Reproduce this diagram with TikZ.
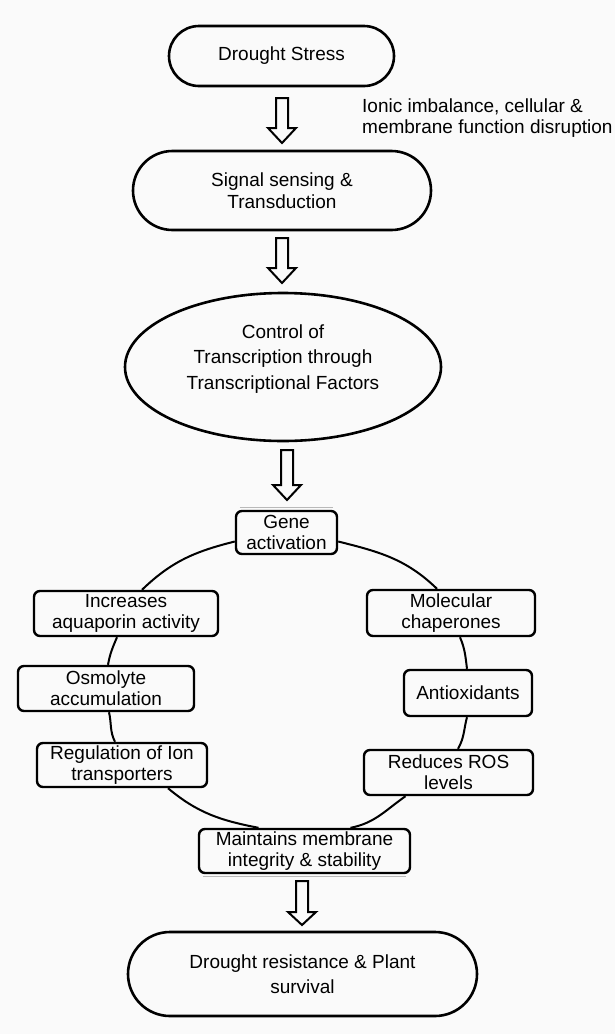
\documentclass[tikz,border=0pt]{standalone}
\usepackage{fontspec}
\setmainfont{Liberation Sans}
\usetikzlibrary{shapes.misc,shapes.geometric}
\definecolor{bg}{RGB}{250,250,250}
\newcommand\hollowarrow[4]{%
  \draw[harrow] ({#1-6},{-#2}) -- ({#1+6},{-#2}) -- ({#1+6},{-#3}) -- ({#1+14},{-#3})
    -- (#1,{-#4}) -- ({#1-14},{-#3}) -- ({#1-6},{-#3}) -- cycle;}
\begin{document}
\begin{tikzpicture}[x=1pt,y=1pt,
  txt/.style={font=\fontsize{19}{21}\selectfont, align=center, inner sep=0pt},
  stadium/.style={txt, rounded rectangle, draw, line width=2.6pt, fill=bg},
  oval/.style={txt, ellipse, draw, line width=2.6pt, fill=bg},
  rbox/.style={txt, rectangle, rounded corners=6pt, draw, line width=2.4pt, fill=bg},
  harrow/.style={draw, line width=2pt, fill=bg, line join=miter},
  ring/.style={draw, line width=2pt},
  shade/.style={draw=gray!55, line width=1.2pt}]
\fill[bg] (0,0) rectangle (615,-1034);
\useasboundingbox (0,0) rectangle (615,-1034);

\node[stadium, minimum width=225pt, minimum height=60pt] (ds) at (281.5,-56) {Drought Stress};
\node[stadium, minimum width=298pt, minimum height=79pt, font=\fontsize{19}{21.5}\selectfont] (sig) at (282,-190.5) {Signal sensing \&\\Transduction};
\node[oval, minimum width=316pt, minimum height=148pt, font=\fontsize{19}{25.5}\selectfont, text depth=20pt] (ctrl) at (283,-367) {Control of\\Transcription through\\Transcriptional Factors};

\node[txt, anchor=north west, align=left, font=\fontsize{19}{21.5}\selectfont] (ionic) at (362,-98.5) {Ionic imbalance, cellular \&\\membrane function disruption};

\node[rbox, minimum width=101pt, minimum height=43pt] (gene) at (286.5,-532.5) {Gene\\activation};
\node[rbox, minimum width=184pt, minimum height=45pt] (inc) at (126,-613.5) {Increases\\aquaporin activity};
\node[rbox, minimum width=176pt, minimum height=45pt] (osm) at (106,-688.5) {Osmolyte\\accumulation};
\node[rbox, minimum width=170pt, minimum height=44pt] (reg) at (122,-765) {Regulation of Ion\\transporters};
\node[rbox, minimum width=168pt, minimum height=46pt] (mol) at (451,-613) {Molecular\\chaperones};
\node[rbox, minimum width=128pt, minimum height=46pt] (anti) at (468,-693) {Antioxidants};
\node[rbox, minimum width=169pt, minimum height=45pt] (red) at (448.5,-772.5) {Reduces ROS\\levels};
\node[rbox, minimum width=211pt, minimum height=44pt] (maint) at (304.5,-851) {Maintains membrane\\integrity \& stability};
\node[stadium, minimum width=349pt, minimum height=84pt, font=\fontsize{19}{25}\selectfont] (res) at (302.5,-974) {Drought resistance \& Plant\\survival};

% faint shadow edges
\draw[shade] ([xshift=5pt,yshift=2.6pt]gene.north west) -- ([xshift=-5pt,yshift=2.6pt]gene.north east);
\draw[shade] ([xshift=5pt,yshift=-2.6pt]maint.south west) -- ([xshift=-5pt,yshift=-2.6pt]maint.south east);

% ring connectors
\draw[ring] ([yshift=-9pt]gene.west) to[out=194,in=44] ([xshift=16pt]inc.north);
\draw[ring] ([xshift=-9pt]inc.south) to[out=247,in=80] ([xshift=2pt]osm.north);
\draw[ring] ([xshift=3pt]osm.south) to[out=283,in=117] ([xshift=-7pt]reg.north);
\draw[ring] ([xshift=46pt]reg.south) to[out=320,in=169] ([xshift=-46pt]maint.north);
\draw[ring] ([xshift=46pt]maint.north) to[out=11,in=215] ([xshift=-43pt]red.south);
\draw[ring] ([xshift=9.5pt]red.north) to[out=60,in=255] ([xshift=-1pt]anti.south);
\draw[ring] ([xshift=-1pt]anti.north) to[out=97,in=293] ([xshift=9pt]mol.south);
\draw[ring] ([xshift=-14pt]mol.north) to[out=136,in=346] ([yshift=-9pt]gene.east);

% block arrows
\hollowarrow{282}{98}{128}{143}
\hollowarrow{282}{238}{268}{283}
\hollowarrow{287}{450}{485}{500}
\hollowarrow{302}{881}{912}{925}
\end{tikzpicture}
\end{document}
